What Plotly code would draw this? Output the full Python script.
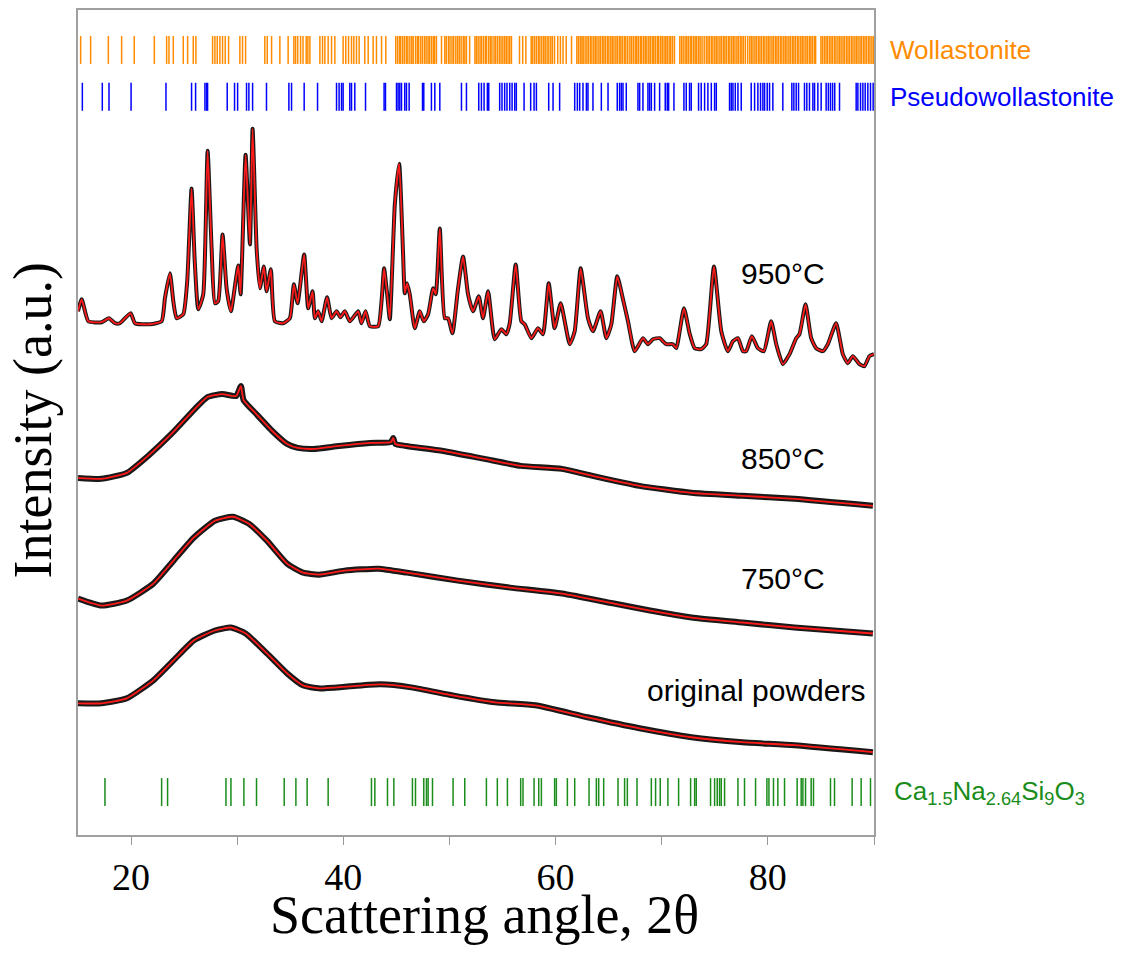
import plotly.graph_objects as go

# ---------------- data ----------------
# 950 °C pattern (fit), angle in degrees 2θ, intensity in a.u. (stacked offset included)
t950_x = [15.0, 15.35, 15.97, 17.23, 17.92, 18.48, 18.95, 19.96, 20.37, 21.78, 22.88, 23.19, 23.66, 23.98,
          24.29, 24.92, 25.29, 25.7, 26.0, 26.33, 26.8, 27.21, 27.59, 27.9, 28.21, 28.62, 29.0, 29.41,
          29.85, 30.1, 30.32, 30.79, 31.2, 31.45, 31.83, 32.14, 32.51, 32.77, 33.17, 33.55, 34.33, 34.96,
          35.34, 35.69, 36.31, 36.69, 37.1, 37.32, 37.63, 37.95, 38.47, 38.89, 39.36, 39.73, 40.14, 40.61,
          41.4, 41.71, 42.09, 42.5, 43.28, 43.6, 43.84, 44.13, 44.38, 44.85, 45.26, 45.63, 45.79, 46.0,
          46.26, 46.73, 47.2, 47.58, 47.99, 48.46, 48.71, 49.09, 49.56, 49.87, 50.28, 50.81, 51.28, 51.75,
          52.22, 52.76, 53.16, 53.64, 54.26, 54.89, 55.36, 55.68, 56.24, 56.77, 57.09, 57.72, 58.34, 58.81,
          59.35, 59.91, 60.48, 61.33, 61.8, 62.36, 63.05, 63.52, 64.24, 64.78, 65.25, 65.81, 66.35, 66.82,
          67.45, 68.23, 68.7, 69.17, 69.8, 70.43, 71.06, 71.37, 72.09, 72.62, 73.1, 73.72, 74.19, 74.92,
          75.61, 76.23, 76.71, 77.18, 77.65, 77.96, 78.49, 79.06, 79.62, 80.31, 80.79, 81.41, 82.04, 82.67,
          82.98, 83.55, 84.08, 84.55, 85.18, 85.65, 86.43, 87.06, 87.53, 88.0, 88.63, 89.1, 89.57, 90.0]
t950_y = [525, 537, 515, 514, 518, 513, 513, 523, 513, 512, 515, 538, 563, 535,
          518, 522, 555, 648, 575, 527, 542, 686, 588, 533, 535, 602, 548, 525,
          555, 571, 542, 682, 592, 708, 588, 548, 570, 545, 567, 515, 513, 518,
          552, 533, 582, 528, 545, 518, 525, 515, 539, 518, 525, 519, 525, 515,
          525, 513, 525, 510, 510, 535, 568, 542, 517, 632, 673, 582, 543, 553,
          542, 508, 525, 515, 522, 548, 542, 608, 518, 518, 503, 548, 580, 542,
          525, 540, 518, 545, 497, 507, 502, 513, 572, 515, 512, 498, 508, 502,
          553, 508, 533, 492, 505, 568, 518, 505, 525, 498, 512, 560, 537, 515,
          485, 498, 492, 497, 498, 492, 492, 488, 528, 503, 488, 487, 492, 570,
          505, 485, 495, 498, 485, 485, 500, 488, 485, 515, 492, 472, 482, 498,
          502, 532, 498, 488, 485, 492, 513, 482, 473, 480, 472, 470, 480, 482]

t850_x = [15.0, 17.2, 19.6, 21.6, 23.8, 26.0, 27.2, 28.6, 29.9, 30.35, 30.6, 31.8, 33.3, 34.7, 35.7,
          37.2, 39.6, 42.5, 44.5, 44.7, 44.9, 45.9, 49.4, 53.3, 56.7, 60.6, 63.5, 67.9, 72.8, 77.6,
          82.5, 89.9]
t850_y = [358, 357, 363, 380, 402, 427, 439, 442, 440, 450, 436, 422, 405, 392, 388,
          387, 390, 393, 394, 398, 392, 390, 385, 377, 370, 367, 360, 350, 343, 340,
          337, 330]

t750_x = [15.0, 17.2, 19.6, 22.1, 24.0, 25.9, 27.9, 29.6, 31.1, 32.8, 34.7, 36.2, 37.7, 40.1, 43.3,
          46.0, 50.8, 55.7, 60.6, 65.5, 68.9, 72.8, 77.6, 82.5, 89.9]
t750_y = [237, 230, 235, 252, 275, 298, 315, 319, 312, 295, 272, 263, 261, 265, 267,
          263, 255, 248, 242, 232, 225, 218, 213, 208, 202]

orig_x = [15.0, 17.2, 19.6, 22.1, 24.0, 25.9, 27.9, 29.4, 30.8, 32.8, 34.7, 36.2, 37.7, 40.6, 43.5,
          46.4, 50.3, 54.3, 58.1, 63.0, 67.9, 72.8, 77.6, 82.5, 89.9]
orig_y = [132, 132, 137, 155, 175, 195, 205, 208, 202, 182, 162, 150, 147, 149, 151,
          148, 140, 133, 130, 118, 107, 98, 93, 90, 83]

# Reference reflection positions (degrees 2θ)
wollastonite = [
    15.25, 16.19, 17.86, 19.11, 20.3, 22.19, 23.35, 23.57, 23.98, 24.92, 25.33, 25.86, 26.11, 27.68, 27.9,
    28.12, 28.37, 28.62, 28.87, 29.19, 30.25, 30.5, 30.79, 32.6, 32.83, 33.24, 34.02, 34.8, 35.34, 35.5,
    35.7, 35.97, 36.2, 36.5, 36.66, 36.85, 37.79, 38.04, 38.26, 38.57, 38.89, 39.2, 39.98, 40.23, 40.49,
    40.77, 40.99, 41.24, 41.49, 42.02, 42.34, 42.81, 43.12, 43.6, 44.0,
    44.94, 45.12, 45.3, 45.41, 45.6, 45.77, 45.95, 46.08, 46.27, 46.45, 46.58, 46.8, 46.97, 47.1, 47.3,
    47.46, 47.65, 47.8, 47.98, 48.12, 48.3, 48.47, 48.6, 48.77,
    49.25, 49.56, 49.7, 49.9, 50.05, 50.24, 50.4, 50.6, 50.77, 50.93, 51.1, 51.3, 51.45, 51.6, 51.9, 52.4,
    52.54, 52.7, 52.88, 53.02, 53.2, 53.38, 53.5, 53.7, 53.86, 54.0, 54.2, 54.35, 54.52, 54.7, 54.86,
    55.03, 55.2, 55.35, 55.52, 55.68, 55.84, 56.6, 56.9, 57.2,
    57.7, 57.85, 58.03, 58.2, 58.38, 58.52, 58.7, 58.88, 59.02, 59.2, 59.36, 59.55, 59.7, 59.9,
    60.2, 60.45, 60.7, 61.0, 61.5,
    62.0, 62.15, 62.32, 62.48, 62.6, 62.78, 62.95, 63.1, 63.28, 63.42, 63.6, 63.75, 63.9, 64.08, 64.22,
    64.4, 64.55, 64.7, 64.88, 65.02, 65.2, 65.35, 65.5, 65.68, 65.82, 66.0, 66.15, 66.3, 66.48, 66.62,
    66.8, 67.0, 67.15, 67.32, 67.5, 67.65, 67.8, 67.98, 68.12, 68.3, 68.45, 68.6, 68.78, 68.92, 69.1,
    69.25, 69.4, 69.58, 69.72, 69.9, 70.05, 70.22, 70.38, 70.52, 70.7, 70.85, 71.02, 71.2,
    71.7, 71.86, 72.02, 72.2, 72.35, 72.5, 72.68, 72.82, 73.0, 73.15, 73.3, 73.48, 73.62, 73.8, 74.0,
    74.2, 74.36, 74.5, 74.68, 74.82, 75.0, 75.15, 75.3, 75.48, 75.62, 75.8, 75.95, 76.1, 76.28, 76.42,
    76.6, 76.75, 76.9, 77.08, 77.22, 77.4, 77.55, 77.7, 77.88, 78.1,
    78.3, 78.45, 78.6, 78.78, 78.92, 79.1, 79.25, 79.4, 79.58, 79.72, 79.9, 80.05, 80.2, 80.38, 80.52,
    80.7, 80.85, 81.0, 81.18, 81.32, 81.5, 81.65, 81.8, 81.98, 82.12, 82.3, 82.45, 82.6, 82.78, 82.92,
    83.1, 83.25, 83.4, 83.58, 83.72, 83.9, 84.05, 84.2, 84.38, 84.5,
    85.0, 85.15, 85.32, 85.48, 85.62, 85.8, 85.95, 86.1, 86.28, 86.42, 86.6, 86.75, 86.9, 87.08, 87.22,
    87.4, 87.55, 87.7, 87.88, 88.02, 88.2, 88.35, 88.5, 88.68, 88.82, 89.0, 89.15, 89.3, 89.48, 89.62,
    89.8, 89.95]

pseudowollastonite = [
    15.41, 17.29, 17.92, 20.0, 23.29, 25.7, 26.08, 26.96, 27.12, 27.21, 29.06, 29.75, 30.04, 30.88, 31.1,
    31.45, 32.76, 34.87, 35.12, 36.31, 37.57, 39.36, 39.6, 39.83, 39.98, 40.61, 40.77, 41.08, 42.09,
    43.84, 43.97, 45.01, 45.16, 45.32, 45.48, 45.79, 45.95, 46.2, 47.46, 47.58, 48.3, 48.62, 49.09,
    51.13, 51.6,
    52.76, 53.01, 53.26, 53.57, 53.7, 54.73, 54.95, 55.2, 55.42, 55.68, 55.9, 56.15, 56.3, 57.03, 57.65,
    57.97, 58.19, 59.35, 59.76, 60.38, 61.8, 62.05, 62.27, 62.58, 62.9, 63.05, 63.52, 64.31, 64.94,
    65.81, 66.03, 66.19, 66.35, 66.66, 67.76, 67.92, 68.23, 68.7, 68.86, 69.02, 69.33, 69.8, 70.33,
    70.52, 70.65, 71.15, 72.09, 72.31, 72.62, 72.78, 73.47, 73.72, 74.04, 74.35, 74.67, 74.98, 75.14,
    76.39, 76.55, 76.71, 76.93, 77.18, 77.49, 78.43, 78.75, 79.06, 79.31, 79.53, 79.69, 79.94, 80.16,
    80.47, 81.41, 82.26, 82.45, 82.67, 82.89, 83.45, 83.67, 83.92, 84.24, 84.4, 84.71, 85.02, 85.49,
    85.7, 85.9, 86.1, 86.3, 86.75, 88.32, 88.48, 88.73, 88.95, 89.17, 89.42, 89.67, 89.92]

ca_na_silicate = [
    17.54, 22.88, 23.44, 28.94, 29.41, 30.63, 31.82, 34.43, 35.53, 36.59, 38.57, 42.65, 42.97, 44.16,
    44.76, 46.51, 46.8, 47.58, 47.83, 47.99, 48.4, 50.34, 51.44,
    53.48, 54.51, 55.46, 56.71, 56.93, 57.97, 58.41, 58.66, 59.91, 60.07, 61.11, 61.8, 63.15, 63.84,
    64.06, 64.53, 65.88, 66.5, 66.76, 67.67, 69.02, 69.42, 69.86, 70.58, 71.59, 72.72, 73.1, 73.25,
    74.6, 74.98, 75.23, 75.45, 75.61, 75.92, 77.18, 77.8, 78.84, 79.91, 80.1, 80.53, 80.94, 81.57,
    82.76, 83.14, 83.3, 83.55, 84.08, 84.3, 85.9, 86.28, 87.94, 88.79, 89.67]

# tick-row levels (a.u.) and labels
row_levels = {"Wollastonite": 787, "Pseudowollastonite": 740, "Ca": 43}
curve_labels = ["950°C", "850°C", "750°C", "original powders"]
label_pos = [(81.4, 563), (81.4, 377), (81.4, 257), (89.3, 145)]

# ---------------- figure ----------------
fig = go.Figure()

curves = [(t950_x, t950_y, 4), (t850_x, t850_y, 6), (t750_x, t750_y, 6), (orig_x, orig_y, 6)]
for xs, ys, w in curves:
    # observed data (black band)
    fig.add_trace(go.Scatter(x=xs, y=ys, mode="lines",
                             line=dict(color="rgba(0,0,0,0.9)", width=w, shape="spline", smoothing=0.5),
                             showlegend=False, hoverinfo="skip"))
for xs, ys, w in curves:
    # fit (red)
    fig.add_trace(go.Scatter(x=xs, y=ys, mode="lines",
                             line=dict(color="#ff1a1a", width=1.8, shape="spline", smoothing=0.5),
                             showlegend=False))

rows = [(wollastonite, row_levels["Wollastonite"], "#ff8c00"),
        (pseudowollastonite, row_levels["Pseudowollastonite"], "#0000ff"),
        (ca_na_silicate, row_levels["Ca"], "#1a8c1a")]
for pos, lev, col in rows:
    fig.add_trace(go.Scatter(x=pos, y=[lev] * len(pos), mode="markers",
                             marker=dict(symbol="line-ns", size=20, line=dict(color=col, width=1.5)),
                             showlegend=False))

SANS = "Liberation Sans, Arial"
SERIF = "Liberation Serif, Times New Roman"

annotations = []
for txt, (xx, yy) in zip(curve_labels, label_pos):
    annotations.append(dict(x=xx, y=yy, xref="x", yref="y", text=txt, showarrow=False,
                            xanchor="right" if txt.startswith("original") else "center", yanchor="middle",
                            font=dict(family=SANS, size=30, color="black")))

annotations += [
    dict(x=1.0176, y=row_levels["Wollastonite"], xref="paper", yref="y", text="Wollastonite",
         showarrow=False, xanchor="left", yanchor="middle", font=dict(family=SANS, size=26, color="#ff8c00")),
    dict(x=1.0176, y=row_levels["Pseudowollastonite"], xref="paper", yref="y", text="Pseudowollastonite",
         showarrow=False, xanchor="left", yanchor="middle", font=dict(family=SANS, size=26, color="#0000ff")),
    dict(x=1.022, y=row_levels["Ca"], xref="paper", yref="y",
         text="Ca<sub>1.5</sub>Na<sub>2.64</sub>Si<sub>9</sub>O<sub>3</sub>",
         showarrow=False, xanchor="left", yanchor="middle", font=dict(family=SANS, size=26, color="#1a8c1a")),
    dict(x=-0.057, y=0.502, xref="paper", yref="paper", text="Intensity (a.u.)", textangle=-90,
         showarrow=False, xanchor="center", yanchor="middle", font=dict(family=SERIF, size=54, color="black")),
    dict(x=0.511, y=-0.097, xref="paper", yref="paper", text="Scattering angle, 2θ",
         showarrow=False, xanchor="center", yanchor="middle", font=dict(family=SERIF, size=54, color="black")),
]

# the page adds an 8 px body margin, so the figure is a little smaller than the window
fig.update_layout(
    width=1131, height=946,
    margin=dict(l=70, r=265, t=0, b=119),
    paper_bgcolor="white", plot_bgcolor="white",
    annotations=annotations,
    showlegend=False,
)
fig.update_xaxes(range=[15, 90], tick0=0, dtick=20, ticks="outside", ticklen=8, tickcolor="#999999",
                 minor=dict(dtick=10, ticks="outside", ticklen=8, tickcolor="#999999"),
                 showline=True, linecolor="#a0a0a0", linewidth=1.5, mirror=True,
                 showgrid=False, zeroline=False,
                 tickfont=dict(family=SERIF, size=38, color="black"))
fig.update_yaxes(range=[0, 827], showticklabels=False, ticks="",
                 showline=True, linecolor="#a0a0a0", linewidth=1.5, mirror=True,
                 showgrid=False, zeroline=False)

fig.write_html("out.html")
